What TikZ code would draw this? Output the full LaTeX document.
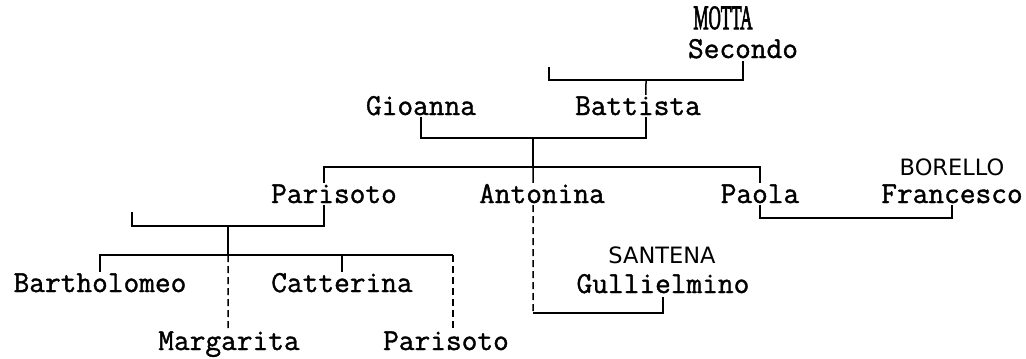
\documentclass[tikz,border=0pt]{standalone}
\usepackage{fontspec}
\setsansfont{DejaVu Sans}
\newfontfamily\namefont[FakeBold=1.2]{Latin Modern Mono}
\newfontfamily\mottafont[FakeBold=3]{Liberation Serif}
\usepackage{tikz}

\begin{document}
\begin{tikzpicture}[x=1bp,y=-1bp,
    person/.style={font=\fontsize{30.5bp}{32bp}\selectfont\namefont,anchor=base,
        inner xsep=0pt,inner ysep=6bp,text height=16bp,text depth=0pt},
    surname/.style={font=\fontsize{22.5bp}{24bp}\selectfont\sffamily,anchor=base,inner sep=0pt},
    link/.style={line width=1.5bp},
    maybe/.style={link,dash pattern=on 7bp off 4bp}]
    \useasboundingbox (0,0) rectangle (1026,358);
    % Generation 1
    \node[anchor=base,inner sep=0pt,font=\fontsize{34bp}{36bp}\selectfont\mottafont]
        (motta) at (723,29) {\scalebox{0.5}[1]{MOTTA}};
    \node[person] (secondo) at (743,58) {Secondo};
    % Generation 2
    \node[person] (gioanna) at (421,115) {Gioanna};
    \node[person] (battista) at (638,115) {Battista};
    % Generation 3
    \node[person] (parisoto) at (334,203) {Parisoto};
    \node[person] (antonina) at (542,203) {Antonina};
    \node[person] (paola) at (760,203) {Paola};
    \node[surname] (borello) at (952,175) {BORELLO};
    \node[person] (francesco) at (952,203) {Francesco};
    % Generation 4
    \node[person] (bartholomeo) at (100,292) {Bartholomeo};
    \node[person] (catterina) at (342,292) {Catterina};
    \node[person] (margarita) at (229,350) {Margarita};
    \node[person] (parisotob) at (446,350) {Parisoto};
    \node[surname] (santena) at (662,263) {SANTENA};
    \node[person] (gullielmino) at (663,293) {Gullielmino};

    % Secondo and wife
    \coordinate (wife1) at (549,67);
    \coordinate (fam1) at (646,80);
    \draw[link] (wife1) |- (fam1) -| ([yshift=3]secondo.south);
    \draw[link] (fam1) -- ([xshift=8,yshift=-2]battista.north);
    % Gioanna and Battista
    \coordinate (fam2) at (533,138);
    \coordinate (kids2) at (533,167);
    \draw[link] ([yshift=4]gioanna.south) |- (fam2) -| ([xshift=8,yshift=4]battista.south);
    \draw[link] (fam2) -- (kids2);
    \draw[link] ([xshift=-10,yshift=-2]parisoto.north) |- (kids2) -| ([yshift=-2]paola.north);
    \draw[link] (kids2) -- ([xshift=-9,yshift=-2]antonina.north);
    % Paola and Francesco
    \draw[link] ([yshift=4]paola.south) -- ++(0,13) -| ([yshift=4]francesco.south);
    % Antonina and Gullielmino
    \coordinate (fam4) at (533,313);
    \draw[maybe] ([xshift=-9,yshift=4]antonina.south) -- (fam4);
    \draw[link] (fam4) -| ([yshift=2]gullielmino.south);
    % Parisoto and wife
    \coordinate (wife3) at (132,212);
    \coordinate (fam3) at (228,226);
    \coordinate (kids3) at (228,255);
    \draw[link] (wife3) |- (fam3) -| ([xshift=-10,yshift=4]parisoto.south);
    \draw[link] (fam3) -- (kids3);
    \draw[link] ([yshift=-2]bartholomeo.north) |- (kids3) -| ([yshift=-2]catterina.north);
    \draw[link] (catterina.north |- kids3) -- ([xshift=7]parisotob.north |- kids3);
    \draw[maybe] ([xshift=7]parisotob.north |- kids3) -- ([xshift=7,yshift=-2]parisotob.north);
    \draw[maybe] (kids3) -- ([xshift=-1,yshift=-2]margarita.north);
\end{tikzpicture}
\end{document}
